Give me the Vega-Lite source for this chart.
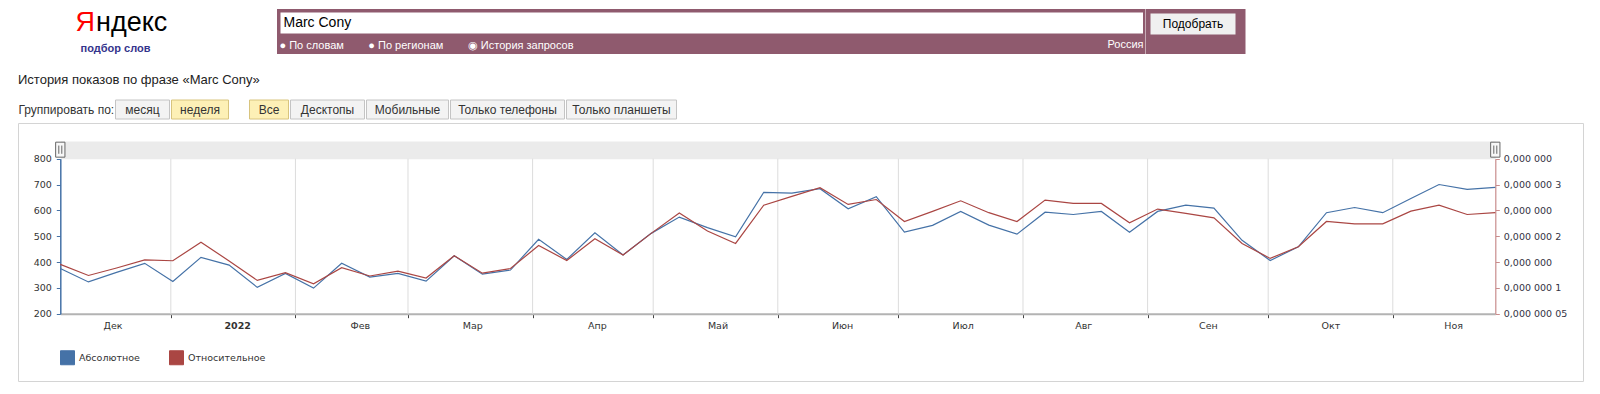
{
  "$schema": "https://vega.github.io/schema/vega-lite/v6.json",
  "background": "#ffffff",
  "padding": {"left": 17, "top": 8, "right": 0, "bottom": 0},
  "config": {
    "font": "DejaVu Sans",
    "view": {"stroke": null},
    "axis": {"labelFont": "DejaVu Sans", "labelFontSize": 9.5, "labelColor": "#333333", "titleFont": "Liberation Sans", "titleFontWeight": "normal", "titleColor": "#333333", "titleFontSize": 12, "titlePadding": 0},
    "legend": {"labelFont": "DejaVu Sans"},
    "title": {"font": "Liberation Sans", "fontWeight": "normal"}
  },
  "resolve": {"scale": {"color": "independent"}, "legend": {"color": "independent"}},
  "datasets": {
    "none": [],
    "handles": [{"date": "2021-12-04T12:00:00"}, {"date": "2022-11-26T12:00:00"}],
    "months": [{"date": "2022-01-01T00:00:00"}, {"date": "2022-02-01T00:00:00"}, {"date": "2022-03-01T00:00:00"}, {"date": "2022-04-01T00:00:00"}, {"date": "2022-05-01T00:00:00"}, {"date": "2022-06-01T00:00:00"}, {"date": "2022-07-01T00:00:00"}, {"date": "2022-08-01T00:00:00"}, {"date": "2022-09-01T00:00:00"}, {"date": "2022-10-01T00:00:00"}, {"date": "2022-11-01T00:00:00"}],
    "weekly": [
      {"date":"2021-12-04T12:00:00","abs":375,"rel":1.455e-7},
      {"date":"2021-12-11T12:00:00","abs":323,"rel":1.24e-7},
      {"date":"2021-12-18T12:00:00","abs":360,"rel":1.385e-7},
      {"date":"2021-12-25T12:00:00","abs":395,"rel":1.54e-7},
      {"date":"2022-01-01T12:00:00","abs":325,"rel":1.525e-7},
      {"date":"2022-01-08T12:00:00","abs":418,"rel":1.885e-7},
      {"date":"2022-01-15T12:00:00","abs":388,"rel":1.52e-7},
      {"date":"2022-01-22T12:00:00","abs":302,"rel":1.145e-7},
      {"date":"2022-01-29T12:00:00","abs":356,"rel":1.295e-7},
      {"date":"2022-02-05T12:00:00","abs":299,"rel":1.08e-7},
      {"date":"2022-02-12T12:00:00","abs":395,"rel":1.39e-7},
      {"date":"2022-02-19T12:00:00","abs":342,"rel":1.23e-7},
      {"date":"2022-02-26T12:00:00","abs":356,"rel":1.325e-7},
      {"date":"2022-03-05T12:00:00","abs":326,"rel":1.19e-7},
      {"date":"2022-03-12T12:00:00","abs":424,"rel":1.62e-7},
      {"date":"2022-03-19T12:00:00","abs":353,"rel":1.285e-7},
      {"date":"2022-03-26T12:00:00","abs":369,"rel":1.375e-7},
      {"date":"2022-04-02T12:00:00","abs":488,"rel":1.82e-7},
      {"date":"2022-04-09T12:00:00","abs":410,"rel":1.53e-7},
      {"date":"2022-04-16T12:00:00","abs":513,"rel":1.95e-7},
      {"date":"2022-04-23T12:00:00","abs":427,"rel":1.635e-7},
      {"date":"2022-04-30T12:00:00","abs":511,"rel":2.055e-7},
      {"date":"2022-05-07T12:00:00","abs":574,"rel":2.45e-7},
      {"date":"2022-05-14T12:00:00","abs":533,"rel":2.1e-7},
      {"date":"2022-05-21T12:00:00","abs":498,"rel":1.86e-7},
      {"date":"2022-05-28T12:00:00","abs":670,"rel":2.6e-7},
      {"date":"2022-06-04T12:00:00","abs":667,"rel":2.77e-7},
      {"date":"2022-06-11T12:00:00","abs":684,"rel":2.94e-7},
      {"date":"2022-06-18T12:00:00","abs":606,"rel":2.615e-7},
      {"date":"2022-06-25T12:00:00","abs":653,"rel":2.71e-7},
      {"date":"2022-07-02T12:00:00","abs":516,"rel":2.285e-7},
      {"date":"2022-07-09T12:00:00","abs":542,"rel":2.48e-7},
      {"date":"2022-07-16T12:00:00","abs":596,"rel":2.685e-7},
      {"date":"2022-07-23T12:00:00","abs":543,"rel":2.455e-7},
      {"date":"2022-07-30T12:00:00","abs":508,"rel":2.285e-7},
      {"date":"2022-08-06T12:00:00","abs":593,"rel":2.7e-7},
      {"date":"2022-08-13T12:00:00","abs":584,"rel":2.635e-7},
      {"date":"2022-08-20T12:00:00","abs":596,"rel":2.635e-7},
      {"date":"2022-08-27T12:00:00","abs":515,"rel":2.26e-7},
      {"date":"2022-09-03T12:00:00","abs":596,"rel":2.525e-7},
      {"date":"2022-09-10T12:00:00","abs":620,"rel":2.44e-7},
      {"date":"2022-09-17T12:00:00","abs":609,"rel":2.355e-7},
      {"date":"2022-09-24T12:00:00","abs":484,"rel":1.86e-7},
      {"date":"2022-10-01T12:00:00","abs":406,"rel":1.57e-7},
      {"date":"2022-10-08T12:00:00","abs":459,"rel":1.795e-7},
      {"date":"2022-10-15T12:00:00","abs":591,"rel":2.285e-7},
      {"date":"2022-10-22T12:00:00","abs":611,"rel":2.24e-7},
      {"date":"2022-10-29T12:00:00","abs":591,"rel":2.24e-7},
      {"date":"2022-11-05T12:00:00","abs":646,"rel":2.485e-7},
      {"date":"2022-11-12T12:00:00","abs":700,"rel":2.6e-7},
      {"date":"2022-11-19T12:00:00","abs":681,"rel":2.42e-7},
      {"date":"2022-11-26T12:00:00","abs":689,"rel":2.455e-7}
    ]
  },
  "vconcat": [
    {
      "hconcat": [
        {
          "width": 193, "height": 62,
          "data": {"name": "none"},
          "mark": "point",
          "title": {"text": "подбор слов", "orient": "bottom", "anchor": "middle", "offset": -22.3, "baseline": "middle", "fontSize": 11, "fontWeight": "bold", "color": "#34348c", "dx": 1},
          "encoding": {
            "x": {"field": "x", "type": "quantitative", "scale": {"domain": [0, 1]},
              "axis": {"orient": "top", "domain": false, "ticks": false, "labels": false, "grid": false, "title": "ндекс", "titleFont": "Liberation Sans", "titleFontSize": 27, "titleColor": "#000000", "titleAlign": "left", "titleBaseline": "alphabetic", "titleX": 77.5, "titleY": 21.3}},
            "y": {"field": "y", "type": "quantitative", "scale": {"domain": [0, 1]},
              "axis": {"orient": "left", "domain": false, "ticks": false, "labels": false, "grid": false, "title": "Я", "titleAngle": 0, "titleFont": "Liberation Sans", "titleFontSize": 27, "titleColor": "#ff0000", "titleAlign": "left", "titleBaseline": "alphabetic", "titleX": 57, "titleY": 21.3}}
          }
        },
        {"width": 65.5, "height": 45, "data": {"name": "none"}, "mark": "point", "encoding": {"x": {"field": "x", "type": "quantitative", "scale": {"domain": [0, 1]}, "axis": null}}},
        {
          "width": 868.5, "height": 45,
          "view": {"fill": "#8f5a6e", "stroke": null},
          "data": {"name": "none"},
          "mark": "point",
          "title": {"text": "Россия", "orient": "bottom", "anchor": "start", "dx": 830.5, "offset": -9, "baseline": "middle", "fontSize": 11, "color": "#ffffff"},
          "encoding": {
            "x": {"field": "x", "type": "quantitative", "scale": {"domain": [0, 1], "range": [3, 865.5]},
              "axis": {"orient": "top", "offset": -13.5, "domain": true, "domainColor": "#ffffff", "domainWidth": 21, "ticks": false, "labels": false, "grid": false, "zindex": 0, "title": "Marc Cony", "titleFontSize": 14, "titleColor": "#000000", "titleAlign": "left", "titleBaseline": "middle", "titleX": 6, "titleY": 0}},
            "y": {"field": "y", "type": "quantitative", "scale": {"domain": [0, 1]},
              "axis": {"orient": "left", "domain": false, "ticks": false, "labels": false, "grid": false, "title": "●\u00a0По словам\u00a0\u00a0\u00a0\u00a0\u00a0\u00a0\u00a0\u00a0●\u00a0По регионам\u00a0\u00a0\u00a0\u00a0\u00a0\u00a0\u00a0\u00a0◉\u00a0История запросов", "titleAngle": 0, "titleFontSize": 11, "titleColor": "#ffffff", "titleAlign": "left", "titleBaseline": "middle", "titleX": 2, "titleY": 36}}
          }
        },
        {
          "width": 99.5, "height": 45,
          "view": {"fill": "#8f5a6e", "stroke": null},
          "data": {"name": "none"},
          "mark": "point",
          "encoding": {
            "x": {"field": "x", "type": "quantitative", "scale": {"domain": [0, 1], "range": [4, 89]},
              "axis": {"orient": "top", "offset": -14.5, "domain": true, "domainColor": "#f0f0f0", "domainWidth": 21, "ticks": false, "labels": false, "grid": false, "zindex": 0, "title": "Подобрать", "titleFontSize": 12, "titleColor": "#000000", "titleAlign": "center", "titleBaseline": "middle", "titleX": 46.5, "titleY": 0}}
          }
        }
      ],
      "spacing": 0
    },
    {
      "title": {"text": "История показов по фразе «Marc Cony»", "anchor": "start", "fontSize": 13, "color": "#222222", "offset": 12},
      "hconcat": [
        {"width": 92, "height": 19, "data": {"name": "none"}, "mark": "point", "encoding": {"x": {"field": "x", "type": "quantitative", "scale": {"domain": [0, 1]}, "axis": {"orient": "top", "domain": false, "ticks": false, "labels": false, "grid": false, "title": "Группировать по:", "titleX": 0, "titleY": 9.5, "titleAlign": "left", "titleBaseline": "middle"}}}},
        {"width": 54, "height": 19, "view": {"fill": "#f3f3f3", "stroke": "#c4c4c4"}, "data": {"name": "none"}, "mark": "point", "encoding": {"x": {"field": "x", "type": "quantitative", "scale": {"domain": [0, 1]}, "axis": {"orient": "top", "domain": false, "ticks": false, "labels": false, "grid": false, "title": "месяц", "titleX": 27, "titleY": 9.5, "titleAlign": "center", "titleBaseline": "middle"}}}},
        {"width": 57, "height": 19, "view": {"fill": "#fdf0b6", "stroke": "#d8c47e"}, "data": {"name": "none"}, "mark": "point", "encoding": {"x": {"field": "x", "type": "quantitative", "scale": {"domain": [0, 1]}, "axis": {"orient": "top", "domain": false, "ticks": false, "labels": false, "grid": false, "title": "неделя", "titleX": 28.5, "titleY": 9.5, "titleAlign": "center", "titleBaseline": "middle"}}}},
        {"width": 19, "height": 19, "data": {"name": "none"}, "mark": "point", "encoding": {"x": {"field": "x", "type": "quantitative", "scale": {"domain": [0, 1]}, "axis": null}}},
        {"width": 39, "height": 19, "view": {"fill": "#fdf0b6", "stroke": "#d8c47e"}, "data": {"name": "none"}, "mark": "point", "encoding": {"x": {"field": "x", "type": "quantitative", "scale": {"domain": [0, 1]}, "axis": {"orient": "top", "domain": false, "ticks": false, "labels": false, "grid": false, "title": "Все", "titleX": 19.5, "titleY": 9.5, "titleAlign": "center", "titleBaseline": "middle"}}}},
        {"width": 74, "height": 19, "view": {"fill": "#f3f3f3", "stroke": "#c4c4c4"}, "data": {"name": "none"}, "mark": "point", "encoding": {"x": {"field": "x", "type": "quantitative", "scale": {"domain": [0, 1]}, "axis": {"orient": "top", "domain": false, "ticks": false, "labels": false, "grid": false, "title": "Десктопы", "titleX": 37, "titleY": 9.5, "titleAlign": "center", "titleBaseline": "middle"}}}},
        {"width": 82, "height": 19, "view": {"fill": "#f3f3f3", "stroke": "#c4c4c4"}, "data": {"name": "none"}, "mark": "point", "encoding": {"x": {"field": "x", "type": "quantitative", "scale": {"domain": [0, 1]}, "axis": {"orient": "top", "domain": false, "ticks": false, "labels": false, "grid": false, "title": "Мобильные", "titleX": 41, "titleY": 9.5, "titleAlign": "center", "titleBaseline": "middle"}}}},
        {"width": 114, "height": 19, "view": {"fill": "#f3f3f3", "stroke": "#c4c4c4"}, "data": {"name": "none"}, "mark": "point", "encoding": {"x": {"field": "x", "type": "quantitative", "scale": {"domain": [0, 1]}, "axis": {"orient": "top", "domain": false, "ticks": false, "labels": false, "grid": false, "title": "Только телефоны", "titleX": 57, "titleY": 9.5, "titleAlign": "center", "titleBaseline": "middle"}}}},
        {"width": 110, "height": 19, "view": {"fill": "#f3f3f3", "stroke": "#c4c4c4"}, "data": {"name": "none"}, "mark": "point", "encoding": {"x": {"field": "x", "type": "quantitative", "scale": {"domain": [0, 1]}, "axis": {"orient": "top", "domain": false, "ticks": false, "labels": false, "grid": false, "title": "Только планшеты", "titleX": 55, "titleY": 9.5, "titleAlign": "center", "titleBaseline": "middle"}}}}
      ],
      "spacing": 0
    },
    {
      "width": 1565, "height": 258,
      "view": {"fill": "#ffffff", "stroke": "#d4d4d4"},
      "layer": [
        {
          "layer": [
            {
              "data": {"name": "months"},
              "mark": {"type": "rule", "color": "#dcdcdc", "strokeWidth": 1},
              "encoding": {
                "x": {"field": "date", "type": "temporal", "axis": null},
                "y": {"datum": 200, "type": "quantitative"},
                "y2": {"datum": 800}
              }
            },
            {
              "data": {"name": "weekly"},
              "mark": {"type": "line", "strokeWidth": 1.2, "interpolate": "linear"},
              "encoding": {
                "x": {"field": "date", "type": "temporal",
                  "scale": {"type": "time", "nice": false, "domain": [{"year": 2021, "month": 12, "date": 4, "hours": 12}, {"year": 2022, "month": 11, "date": 26, "hours": 12}], "range": [42.3, 1477.3]},
                  "axis": {"orient": "bottom", "offset": -67.3, "title": null, "labels": false, "grid": false, "ticks": true, "tickColor": "#444444", "tickSize": 4, "tickWidth": 1, "domain": true, "domainColor": "#b3b3b3", "domainWidth": 2,
                    "values": [{"year": 2022, "month": 1, "date": 1}, {"year": 2022, "month": 2, "date": 1}, {"year": 2022, "month": 3, "date": 1}, {"year": 2022, "month": 4, "date": 1}, {"year": 2022, "month": 5, "date": 1}, {"year": 2022, "month": 6, "date": 1}, {"year": 2022, "month": 7, "date": 1}, {"year": 2022, "month": 8, "date": 1}, {"year": 2022, "month": 9, "date": 1}, {"year": 2022, "month": 10, "date": 1}, {"year": 2022, "month": 11, "date": 1}]}},
                "y": {"field": "abs", "type": "quantitative",
                  "scale": {"domain": [200, 800], "range": [190.7, 35.7], "nice": false, "zero": false},
                  "axis": {"orient": "left", "offset": -42.3, "title": null, "grid": false, "values": [200, 300, 400, 500, 600, 700, 800], "domainColor": "#4572a7", "domainWidth": 1.5, "tickColor": "#4572a7", "tickSize": 4, "labelPadding": 5, "labelColor": "#333333"}},
                "color": {"datum": "Абсолютное",
                  "scale": {"domain": ["Абсолютное", "Относительное"], "range": ["#4572a7", "#aa4643"]},
                  "legend": {"orient": "none", "legendX": 42, "legendY": 227, "direction": "horizontal", "title": null, "symbolType": "square", "symbolSize": 196, "symbolStrokeWidth": 1, "labelFontSize": 9.5, "labelColor": "#333333", "labelOffset": 4, "columnPadding": 27,
                    "encode": {"symbols": {"update": {"fill": {"signal": "datum.value === 'Абсолютное' ? '#4572a7' : '#aa4643'"}, "fillOpacity": {"value": 1}}}}}}
              }
            },
            {
              "data": {"name": "handles"},
              "mark": {"type": "point", "shape": "M-0.62,-1H0.62V1H-0.62Z M-0.2,-0.55V0.55 M0.2,-0.55V0.55", "size": 225, "filled": true, "fill": "#f7f7f7", "stroke": "#666666", "strokeWidth": 1, "opacity": 1},
              "encoding": {
                "x": {"field": "date", "type": "temporal",
                  "axis": {"orient": "top", "offset": -26.85, "title": null, "labels": false, "ticks": false, "grid": false, "domain": true, "domainColor": "#ebebeb", "domainWidth": 17.7, "zindex": 0}},
                "y": {"datum": 835, "type": "quantitative"}
              }
            }
          ],
          "resolve": {"axis": {"x": "independent"}}
        },
        {
          "data": {"name": "weekly"},
          "mark": {"type": "line", "strokeWidth": 1.2, "interpolate": "linear"},
          "encoding": {
            "x": {"field": "date", "type": "temporal",
              "axis": {"orient": "bottom", "offset": -67.3, "title": null, "grid": false, "ticks": false, "tickSize": 0, "domain": false, "labelPadding": 7, "labelFlush": false, "labelOverlap": false, "labelColor": "#333333", "labelFontSize": 9.5,
                "labelExpr": "month(datum.value) == 0 ? '' + year(datum.value) : ['Янв','Фев','Мар','Апр','Май','Июн','Июл','Авг','Сен','Окт','Ноя','Дек'][month(datum.value)]",
                "labelFontWeight": {"condition": {"test": "month(datum.value) == 0", "value": "bold"}, "value": "normal"},
                "values": [{"year": 2021, "month": 12, "date": 17, "hours": 12}, {"year": 2022, "month": 1, "date": 17, "hours": 12}, {"year": 2022, "month": 2, "date": 17}, {"year": 2022, "month": 3, "date": 17}, {"year": 2022, "month": 4, "date": 17}, {"year": 2022, "month": 5, "date": 17}, {"year": 2022, "month": 6, "date": 17}, {"year": 2022, "month": 7, "date": 17}, {"year": 2022, "month": 8, "date": 16}, {"year": 2022, "month": 9, "date": 16}, {"year": 2022, "month": 10, "date": 16, "hours": 12}, {"year": 2022, "month": 11, "date": 16}]}},
            "y": {"field": "rel", "type": "quantitative",
              "scale": {"domain": [5e-8, 3.5e-7], "range": [190.7, 35.7], "nice": false, "zero": false},
              "axis": {"orient": "right", "offset": -87.7, "title": null, "grid": false, "values": [5e-8, 1e-7, 1.5e-7, 2e-7, 2.5e-7, 3e-7, 3.5e-7], "domainColor": "#c98d8d", "domainWidth": 1.2, "tickColor": "#c98d8d", "tickSize": 4, "labelPadding": 4, "labelColor": "#333344",
                "labelExpr": "round(datum.value*1e8) == 5 ? '0,000 000 05' : round(datum.value*1e8) == 10 ? '0,000 000 1' : round(datum.value*1e8) == 20 ? '0,000 000 2' : round(datum.value*1e8) == 30 ? '0,000 000 3' : '0,000 000'"}},
            "color": {"datum": "Относительное"}
          }
        }
      ],
      "resolve": {"scale": {"y": "independent"}, "axis": {"x": "independent"}}
    }
  ],
  "spacing": 2.5
}
